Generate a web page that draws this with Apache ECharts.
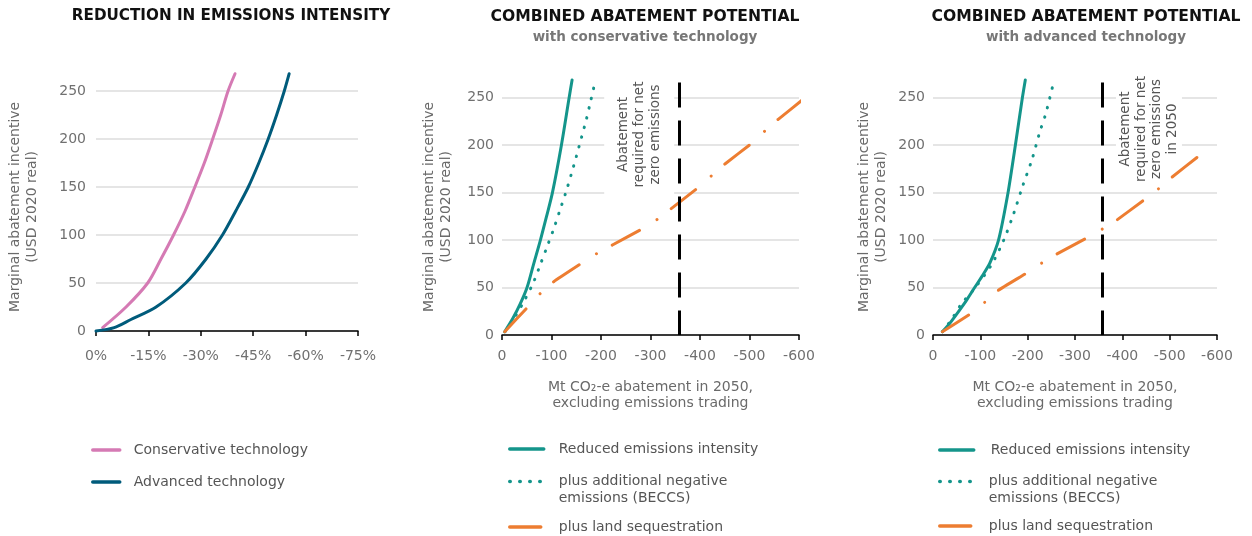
<!DOCTYPE html>
<html>
<head>
<meta charset="utf-8">
<script src="https://cdn.jsdelivr.net/npm/echarts@6/dist/echarts.min.js"></script>
<style>
html,body{margin:0;padding:0;background:#fff;}
#c{width:1252px;height:536px;}
</style>
</head>
<body>
<div id="c"></div>
<script>
// ---------- DATA ----------
// Panel 1: reduction in emissions intensity (% change) vs marginal abatement incentive
const intensityTicks = [0, -15, -30, -45, -60, -75];
const consIntX = [-1.9, -8.6, -14.8, -18.6, -22.2, -25.5, -28.3, -31, -33.4, -35.7, -37.8, -39.8];
const consIntY = [3.5, 25, 50, 75, 100, 125, 150, 175, 200, 225, 250, 268];
const advIntX = [0, -5.2, -10, -17.2, -25.7, -31.5, -36.2, -40, -43.6, -46.6, -49.3, -51.7, -53.9, -55.3];
const advIntY = [0, 3.5, 12, 25, 50, 75, 100, 125, 150, 175, 200, 225, 250, 268];

// Panel 2: combined abatement potential, conservative technology (Mt CO2-e)
const cRedX = [-5.5, -22, -37, -50.6, -64, -77.6, -90, -101.9, -120, -135.6, -141.6];
const cRedY = [3.5, 17.6, 33, 50, 75, 100, 125, 150, 200, 250, 268.7];
const cBecX = [-6, -25, -46, -64, -77.6, -91, -104.6, -116.7, -128.8, -140.3, -150.4, -160.5, -170.6, -179.3, -188];
const cBecY = [3.5, 18, 37, 56, 74.5, 93, 112, 131, 150, 170, 188.6, 208, 227.6, 247, 266.6];
const cLandX = [-5.5, -52.6, -77.6, -104.6, -160.5, -192, -223, -281.9, -314, -342.5, -394.4, -423.4, -450.4, -504.3, -531, -558, -612, -637];
const cLandY = [3.5, 29.8, 43.9, 56.2, 75.5, 86, 94.8, 111.4, 121.9, 133.5, 154.6, 167.9, 180.2, 202, 215, 227.3, 250, 262.4];

// Panel 3: combined abatement potential, advanced technology
const aRedX = [-19.8, -35, -50, -70, -88, -105, -119.8, -138.4, -158.5, -174, -188.8, -195];
const aRedY = [3.5, 12, 22, 36, 50, 63, 75.5, 100, 150, 200, 250, 268.7];
const aBecX = [-19.8, -40, -60, -88, -123.3, -149.4, -170.5, -188.8, -209.2, -225.4, -238.1, -252.2];
const aBecY = [3.5, 17, 32.7, 49.2, 73.8, 100, 128, 156, 185, 213.6, 233, 261];
const aLandX = [-19.8, -81, -110.7, -138.8, -197, -228.7, -261.7, -323.7, -356.9, -388.6, -445, -475, -503.5, -559.8, -588];
const aLandY = [3.5, 22.9, 35.1, 47.4, 65, 75.5, 85.4, 101.9, 111.4, 121.2, 142, 153.5, 165.8, 187.9, 199.5];

// Net-zero abatement requirement
const netZeroX = -358;
const netZeroTop = 266;

const incentiveTicks = [0, 50, 100, 150, 200, 250];
const incentiveMax = 270;
const abatementTicks = [0, -100, -200, -300, -400, -500, -600];

const names = {
  cons: 'Conservative technology',
  adv: 'Advanced technology',
  red: 'Reduced emissions intensity',
  bec: 'plus additional negative emissions (BECCS)',
  land: 'plus land sequestration'
};
const becLabel = 'plus additional negative\nemissions (BECCS)';
const annot2 = 'Abatement\nrequired for net\nzero emissions';
const annot3 = 'Abatement\nrequired for net\nzero emissions\nin 2050';

// ---------- STYLE ----------
const FONT = 'DejaVu Sans';
const C = { pink: '#d57ab4', navy: '#005b7b', teal: '#14958b', orange: '#ed7d31' };
const zip = (xs, ys) => xs.map((x, i) => [x, ys[i]]);

const yAxisBase = (gi, gap, pad) => ({
  gridIndex: gi, type: 'value', min: incentiveTicks[0], max: incentiveMax, interval: incentiveTicks[1] - incentiveTicks[0],
  axisLine: { show: false }, axisTick: { show: false },
  axisLabel: { color: '#707070', fontSize: 14, fontFamily: FONT, margin: gi === 0 ? 10 : 8, showMaxLabel: false },
  splitLine: { showMaxLine: false, lineStyle: { color: '#dcdcdc', width: 1.5 } },
  name: 'Marginal abatement incentive\n(USD 2020 real)', nameLocation: 'middle', nameRotate: 90, nameGap: gap,
  nameTextStyle: { color: '#6a6a6a', fontSize: 14, fontFamily: FONT, lineHeight: 17, padding: pad }
});
const xAxisAbate = (gi) => ({
  gridIndex: gi, type: 'value', inverse: true,
  min: abatementTicks[abatementTicks.length - 1], max: abatementTicks[0], interval: 100,
  axisLine: { lineStyle: { color: '#000', width: 1.5 } },
  axisTick: { show: true, length: 5, lineStyle: { color: '#000', width: 1.5 } },
  axisLabel: { color: '#707070', fontSize: 14, fontFamily: FONT, margin: 14 },
  splitLine: { show: false },
  name: 'Mt CO\u2082-e abatement in 2050,\nexcluding emissions trading', nameLocation: 'middle', nameGap: 44,
  nameTextStyle: { color: '#6a6a6a', fontSize: 14, fontFamily: FONT, lineHeight: 16 }
});

const lineSeries = (name, xi, data, color, type, smooth) => ({
  name, type: 'line', xAxisIndex: xi, yAxisIndex: xi, data, symbol: 'none', clip: false, smooth: smooth,
  itemStyle: { color },
  lineStyle: { color, width: 3, type: type, cap: 'round' },
  z: 3
});
const DOT = [0.5, 9.5];
const DASHDOT = [31, 20.5, 0.01, 18];

const netZeroLine = () => ({
  silent: true, symbol: ['none', 'none'], label: { show: false },
  lineStyle: { color: '#000', width: 3, type: [25, 13], cap: 'butt' },
  emphasis: { disabled: true },
  data: [[{ coord: [netZeroX, netZeroTop] }, { coord: [netZeroX, 0] }]]
});

const legTS = (padLeft, lh) => ({ color: '#555', fontSize: 14, fontFamily: FONT, lineHeight: lh || 16, padding: [0, 0, 0, padLeft] });
const legendBase = (left, top, w, items, extra) => Object.assign({
  left, top, orient: 'vertical', padding: 0, itemWidth: w, itemHeight: 14, itemGap: 16,
  selectedMode: false, data: items,
  itemStyle: { opacity: 0 },
  lineStyle: { width: 3.5 },
  textStyle: legTS(9)
}, extra || {});

const chart = echarts.init(document.getElementById('c'), null, { renderer: 'canvas' });
const titleTS = (fs) => ({ color: '#111', fontSize: fs, fontWeight: 'bold', fontFamily: FONT });
const subTS = { color: '#777', fontSize: 13.5, fontWeight: 'bold', fontFamily: FONT };
const option = {
  animation: false,
  backgroundColor: '#fff',
  textStyle: { fontFamily: FONT },
  title: [
    { text: 'REDUCTION IN EMISSIONS INTENSITY', left: 231, top: 9, textAlign: 'center', padding: 0, textStyle: titleTS(15.2) },
    { text: 'COMBINED ABATEMENT POTENTIAL', subtext: 'with conservative technology', left: 645, top: 9, textAlign: 'center', padding: 0, itemGap: 5,
      textStyle: titleTS(15.6), subtextStyle: subTS },
    { text: 'COMBINED ABATEMENT POTENTIAL', subtext: 'with advanced technology', left: 1086, top: 9, textAlign: 'center', padding: 0, itemGap: 5,
      textStyle: titleTS(15.6), subtextStyle: subTS }
  ],
  grid: [
    { left: 96, top: 71.8, width: 262, height: 259.2 },
    { left: 502, top: 78.8, width: 297, height: 256.2 },
    { left: 933, top: 78.8, width: 284, height: 256.2 }
  ],
  xAxis: [
    { gridIndex: 0, type: 'value', inverse: true,
      min: intensityTicks[intensityTicks.length - 1], max: intensityTicks[0], interval: 15,
      axisLine: { lineStyle: { color: '#000', width: 1.5 } },
      axisTick: { show: true, length: 5, lineStyle: { color: '#000', width: 1.5 } },
      axisLabel: { color: '#707070', fontSize: 14, fontFamily: FONT, margin: 18, formatter: v => v + '%' },
      splitLine: { show: false } },
    xAxisAbate(1),
    xAxisAbate(2)
  ],
  yAxis: [
    yAxisBase(0, 55, [0, 11, 0, 0]),
    yAxisBase(1, 47, 0),
    yAxisBase(2, 43, 0)
  ],
  legend: [
    legendBase(91, 442, 27, [names.cons, names.adv]),
    legendBase(508, 441, 34, [names.red], { textStyle: legTS(10) }),
    legendBase(508, 456, 34, [names.bec], { formatter: () => '\n' + becLabel, textStyle: legTS(10, 17) }),
    legendBase(508, 519, 34, [names.land], { textStyle: legTS(10) }),
    legendBase(938, 442, 34, [names.red], { textStyle: legTS(12) }),
    legendBase(938, 456, 34, [names.bec], { formatter: () => '\n' + becLabel, textStyle: legTS(10, 17) }),
    legendBase(938, 518, 34, [names.land], { textStyle: legTS(10) })
  ],
  series: [
    lineSeries(names.cons, 0, zip(consIntX, consIntY), C.pink, 'solid', 0.3),
    lineSeries(names.adv, 0, zip(advIntX, advIntY), C.navy, 'solid', 0.3),

    lineSeries(names.red, 1, zip(cRedX, cRedY), C.teal, 'solid', 0.3),
    lineSeries(names.bec, 1, zip(cBecX, cBecY), C.teal, DOT, 0.3),
    Object.assign(lineSeries(names.land, 1, zip(cLandX, cLandY), C.orange, DASHDOT, 0.1), { markLine: netZeroLine() }),

    lineSeries(names.red, 2, zip(aRedX, aRedY), C.teal, 'solid', 0.2),
    lineSeries(names.bec, 2, zip(aBecX, aBecY), C.teal, DOT, 0.3),
    Object.assign(lineSeries(names.land, 2, zip(aLandX, aLandY), C.orange, DASHDOT, 0.1), { markLine: netZeroLine() })
  ]
};
chart.setOption(option);

// Annotation boxes placed relative to the net-zero line
const p2 = chart.convertToPixel({ xAxisIndex: 1, yAxisIndex: 1 }, [netZeroX, 0]);
const p3 = chart.convertToPixel({ xAxisIndex: 2, yAxisIndex: 2 }, [netZeroX, 0]);
const annStyle = (text, lh, pad) => ({
  text, fill: '#555', font: '13.5px "' + FONT + '"', align: 'center', verticalAlign: 'middle',
  lineHeight: lh, backgroundColor: '#fff', padding: pad
});
chart.setOption({
  graphic: [
    { type: 'text', x: p2[0] - 40, y: p2[1] - 200.5, rotation: Math.PI / 2, z: 1, silent: true,
      style: annStyle(annot2, 16, [11, 9, 11, 9]) },
    { type: 'text', x: p3[0] + 46.5, y: p3[1] - 206, rotation: Math.PI / 2, z: 1, silent: true,
      style: annStyle(annot3, 15.5, [2, 4, 2, 4]) }
  ]
});
</script>
</body>
</html>
